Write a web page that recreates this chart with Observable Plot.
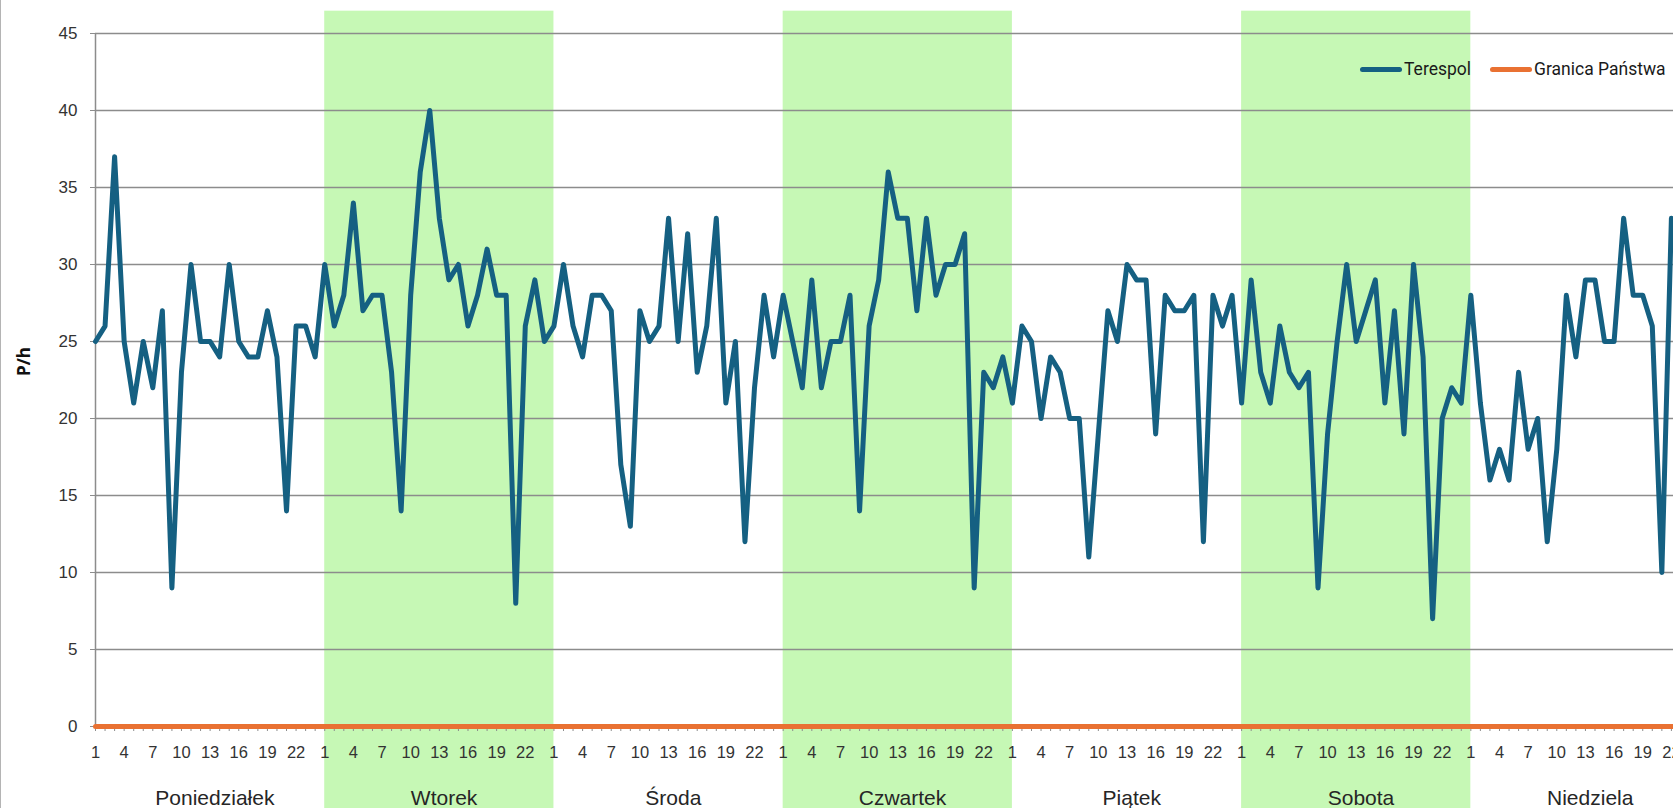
<!DOCTYPE html>
<html>
<head>
<meta charset="utf-8">
<script src="https://cdn.jsdelivr.net/npm/d3@7"></script>
<script src="https://cdn.jsdelivr.net/npm/@observablehq/plot@0.6"></script>
<style>
  html, body { margin: 0; padding: 0; background: #fff; overflow: hidden; }
  #wrap { position: relative; width: 1673px; height: 808px; overflow: hidden; }
  #wrap svg { max-width: none; display: block; }
  #edge { position: absolute; left: 0; top: 0; width: 1px; height: 808px; background: #b4b4b4; }
  .legend { position: absolute; top: 59px; left: 1360px; display: flex; align-items: center;
            font-family: Roboto, "Noto Sans", sans-serif; font-size: 17.5px; color: #1a1a1a; white-space: nowrap; }
  .legend .item { display: flex; align-items: center; margin-right: 19px; }
  .legend .sw { display: inline-block; width: 42px; height: 5px; border-radius: 3px; margin-right: 2px; }
</style>
</head>
<body>
<div id="wrap"><div id="edge"></div></div>
<script>
// ---- data ----
const days = ["Poniedziałek", "Wtorek", "Środa", "Czwartek", "Piątek", "Sobota", "Niedziela"];
const shadedDays = ["Wtorek", "Czwartek", "Sobota"];
const hoursPerDay = 24;
const hourLabels = [1, 4, 7, 10, 13, 16, 19, 22];
const yTicks = [0, 5, 10, 15, 20, 25, 30, 35, 40, 45];

// Terespol, passengers per hour, hours 1..24 of each day
const mon = [25, 26, 37, 25, 21, 25, 22, 27, 9, 23, 30, 25, 25, 24, 30, 25, 24, 24, 27, 24, 14, 26, 26, 24];
const tue = [30, 26, 28, 34, 27, 28, 28, 23, 14, 28, 36, 40, 33, 29, 30, 26, 28, 31, 28, 28, 8, 26, 29, 25];
const wed = [26, 30, 26, 24, 28, 28, 27, 17, 13, 27, 25, 26, 33, 25, 32, 23, 26, 33, 21, 25, 12, 22, 28, 24];
const thu = [28, 25, 22, 29, 22, 25, 25, 28, 14, 26, 29, 36, 33, 33, 27, 33, 28, 30, 30, 32, 9, 23, 22, 24];
const fri = [21, 26, 25, 20, 24, 23, 20, 20, 11, 19, 27, 25, 30, 29, 29, 19, 28, 27, 27, 28, 12, 28, 26, 28];
const sat = [21, 29, 23, 21, 26, 23, 22, 23, 9, 19, 25, 30, 25, 27, 29, 21, 27, 19, 30, 24, 7, 20, 22, 21];
const sun = [28, 21, 16, 18, 16, 23, 18, 20, 12, 18, 28, 24, 29, 29, 25, 25, 33, 28, 28, 26, 10, 33]; // visible hours only

// Granica Państwa (zero every hour)
const granica = [
  0,0,0,0,0,0,0,0,0,0,0,0,0,0,0,0,0,0,0,0,0,0,0,0,
  0,0,0,0,0,0,0,0,0,0,0,0,0,0,0,0,0,0,0,0,0,0,0,0,
  0,0,0,0,0,0,0,0,0,0,0,0,0,0,0,0,0,0,0,0,0,0,0,0,
  0,0,0,0,0,0,0,0,0,0,0,0,0,0,0,0,0,0,0,0,0,0,0,0,
  0,0,0,0,0,0,0,0,0,0,0,0,0,0,0,0,0,0,0,0,0,0,0,0,
  0,0,0,0,0,0,0,0,0,0,0,0,0,0,0,0,0,0,0,0,0,0,0,0,
  0,0,0,0,0,0,0,0,0,0,0,0,0,0,0,0,0,0,0,0,0,0,0,0
];

// ---- derived tables ----
const terespol = [...mon, ...tue, ...wed, ...thu, ...fri, ...sat, ...sun];
const nSlots = days.length * hoursPerDay;
const terData = terespol.map((v, i) => ({i, v}));
const graData = granica.map((v, i) => ({i, v}));
const bands = shadedDays.map(d => { const k = days.indexOf(d); return {x1: k * hoursPerDay, x2: (k + 1) * hoursPerDay}; });
const allTicks = d3.range(nSlots);
const hourTicks = days.flatMap((d, k) => hourLabels.map(h => k * hoursPerDay + h - 1));
const dayCenters = days.map((d, k) => k * hoursPerDay + 12.5);

const blue = "#156082", orange = "#E97132", bandColor = "#c6f8b5", gridColor = "#8c8c8c";
const bandTop = 46.45, bandBottom = -6;

const chart = Plot.plot({
  width: 1700, height: 808,
  marginLeft: 95, marginRight: 10, marginTop: 33, marginBottom: 82,
  x: {domain: [0, nSlots - 1]},
  y: {domain: [0, 45]},
  style: {fontFamily: "'Liberation Sans', Arial, sans-serif", color: "#333", background: "transparent", overflow: "visible"},
  marks: [
    Plot.rect(bands, {x1: "x1", x2: "x2", y1: bandBottom, y2: bandTop, fill: bandColor}),
    Plot.gridY(yTicks, {stroke: gridColor, strokeOpacity: 1, strokeWidth: 1.5}),
    Plot.ruleX([0], {stroke: gridColor, strokeWidth: 1.5}),
    Plot.axisY(yTicks, {tickSize: 5, tickPadding: 13, fontSize: 17, label: null, stroke: gridColor, fill: "#333"}),
    Plot.axisX(allTicks, {tickSize: 5, tickFormat: () => "", label: null, stroke: gridColor}),
    Plot.axisX(hourTicks, {tickSize: 0, tickPadding: 19.5, fontSize: 16.5, label: null, fill: "#333",
      tickFormat: t => (t % hoursPerDay) + 1}),
    Plot.axisX(dayCenters, {tickSize: 0, tickPadding: 64, fontSize: 21, label: null, fill: "#262626",
      tickFormat: t => days[Math.round((t - 12.5) / hoursPerDay)]}),
    Plot.line(graData, {x: "i", y: "v", stroke: orange, strokeWidth: 5}),
    Plot.line(terData, {x: "i", y: "v", stroke: blue, strokeWidth: 5, strokeLinejoin: "round", strokeLinecap: "round"}),
    Plot.text(["P/h"], {text: d => d, frameAnchor: "left", dx: -71, dy: -4, rotate: -90, fontWeight: "bold",
      fontSize: 17, fill: "#111", fontFamily: "'Open Sans', sans-serif"})
  ]
});
const wrap = document.getElementById("wrap");
wrap.insertBefore(chart, wrap.firstChild);

const legend = document.createElement("div");
legend.className = "legend";
legend.innerHTML = [["Terespol", blue], ["Granica Państwa", orange]]
  .map(([n, c]) => `<span class="item"><span class="sw" style="background:${c}"></span>${n}</span>`).join("");
wrap.appendChild(legend);
</script>
</body>
</html>
